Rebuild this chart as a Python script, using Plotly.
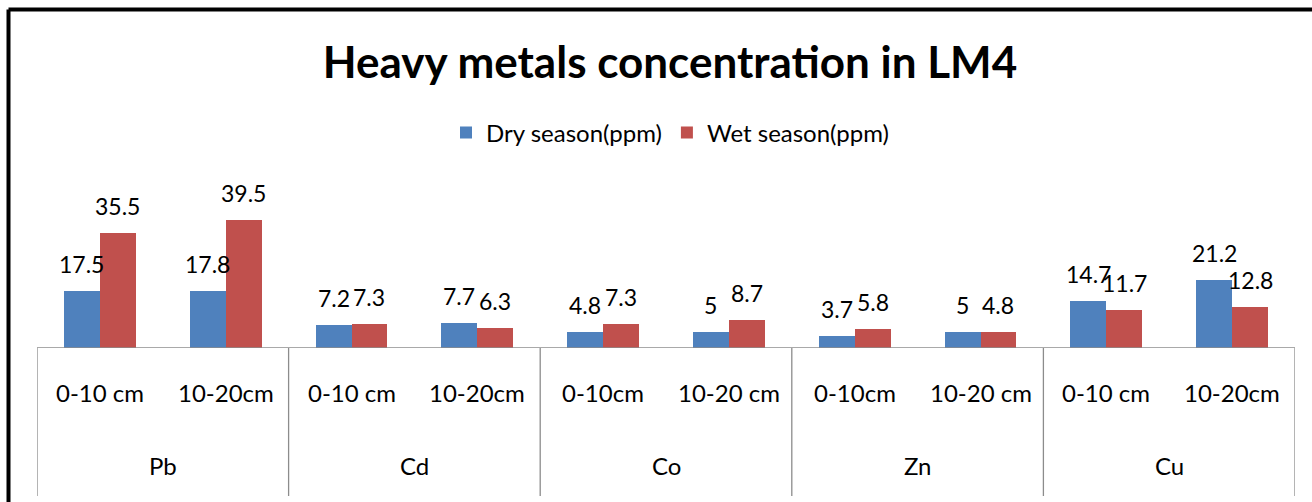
import plotly.graph_objects as go

# Soil sampling results, station LM4
metals = ["Pb", "Cd", "Co", "Zn", "Cu"]
depths = ["0-10 cm", "10-20cm", "0-10 cm", "10-20cm", "0-10cm",
          "10-20 cm", "0-10cm", "10-20 cm", "0-10 cm", "10-20cm"]
dry_season = [17.5, 17.8, 7.2, 7.7, 4.8, 5, 3.7, 5, 14.7, 21.2]
wet_season = [35.5, 39.5, 7.3, 6.3, 7.3, 8.7, 5.8, 4.8, 11.7, 12.8]

FONT = "Lato"
BLUE = "#4F81BD"
RED = "#C0504D"
AXIS_GREY = "#8C8C8C"

W, H = 1312, 502
M_L, M_R, M_T, M_B = 37, 17, 170, 154
PLOT_H = H - M_T - M_B
Y_MAX = 55.1

def py(pix):
    """Convert a pixel row of the page into a paper y coordinate."""
    return (H - M_B - pix) / PLOT_H

def px(pix):
    """Convert a pixel column of the page into a paper x coordinate."""
    return (pix - M_L) / (W - M_L - M_R)

pos = list(range(len(depths)))
bw = 0.286

fig = go.Figure()
fig.add_trace(go.Bar(x=pos, y=dry_season, name="Dry season(ppm)",
                     marker=dict(color=BLUE, line=dict(width=0)),
                     width=bw, offset=-bw))
fig.add_trace(go.Bar(x=pos, y=wet_season, name="Wet season(ppm)",
                     marker=dict(color=RED, line=dict(width=0)),
                     width=bw, offset=0))

annotations = []
# value labels above each bar
for i in pos:
    for val, dx in ((dry_season[i], -bw / 2), (wet_season[i], bw / 2)):
        annotations.append(dict(x=i + dx, y=val, xref="x", yref="y",
                                text=f"{val:g}", showarrow=False,
                                yanchor="middle", yshift=27,
                                font=dict(family=FONT, size=23, color="black")))
# depth labels
for i, d in enumerate(depths):
    annotations.append(dict(x=i, y=py(392), xref="x", yref="paper",
                            text=d, showarrow=False, yanchor="middle",
                            font=dict(family=FONT, size=24, color="black")))
# metal labels
for g, m in enumerate(metals):
    annotations.append(dict(x=2 * g + 0.5, y=py(465), xref="x", yref="paper",
                            text=m, showarrow=False, yanchor="middle",
                            font=dict(family=FONT, size=24, color="black")))

shapes = []
# category axis baseline
shapes.append(dict(type="line", xref="x", yref="y", x0=-0.5, x1=9.5, y0=0, y1=0,
                   line=dict(color=AXIS_GREY, width=1.3)))
# group dividers
for g in range(len(metals) + 1):
    xv = 2 * g - 0.5
    shapes.append(dict(type="line", xref="x", yref="paper", x0=xv, x1=xv,
                       y0=0, y1=py(496), line=dict(color=AXIS_GREY, width=1.3)))
# chart frame
shapes.append(dict(type="line", xref="paper", yref="paper",
                   x0=px(8.5), x1=px(1330), y0=py(9.5), y1=py(9.5),
                   line=dict(color="black", width=4)))
shapes.append(dict(type="line", xref="paper", yref="paper",
                   x0=px(8.5), x1=px(8.5), y0=py(9.5), y1=py(520),
                   line=dict(color="black", width=4)))

fig.update_layout(
    width=W, height=H,
    margin=dict(l=M_L, r=M_R, t=M_T, b=M_B),
    paper_bgcolor="white", plot_bgcolor="white",
    title=dict(text="<b>Heavy metals concentration in LM4</b>",
               x=px(670), xref="paper", xanchor="center",
               y=1 - 63 / H, yref="container", yanchor="middle",
               font=dict(family=FONT, size=44, color="black")),
    legend=dict(orientation="h", x=px(670), xanchor="center",
                y=py(133), yanchor="middle",
                font=dict(family=FONT, size=24, color="black"),
                bgcolor="rgba(0,0,0,0)"),
    xaxis=dict(range=[-0.5, 9.5], showticklabels=False, showgrid=False,
               zeroline=False, showline=False, fixedrange=True),
    yaxis=dict(range=[0, Y_MAX], visible=False, fixedrange=True),
    bargap=0, annotations=annotations, shapes=shapes, showlegend=True,
)

fig.write_html("out.html")
